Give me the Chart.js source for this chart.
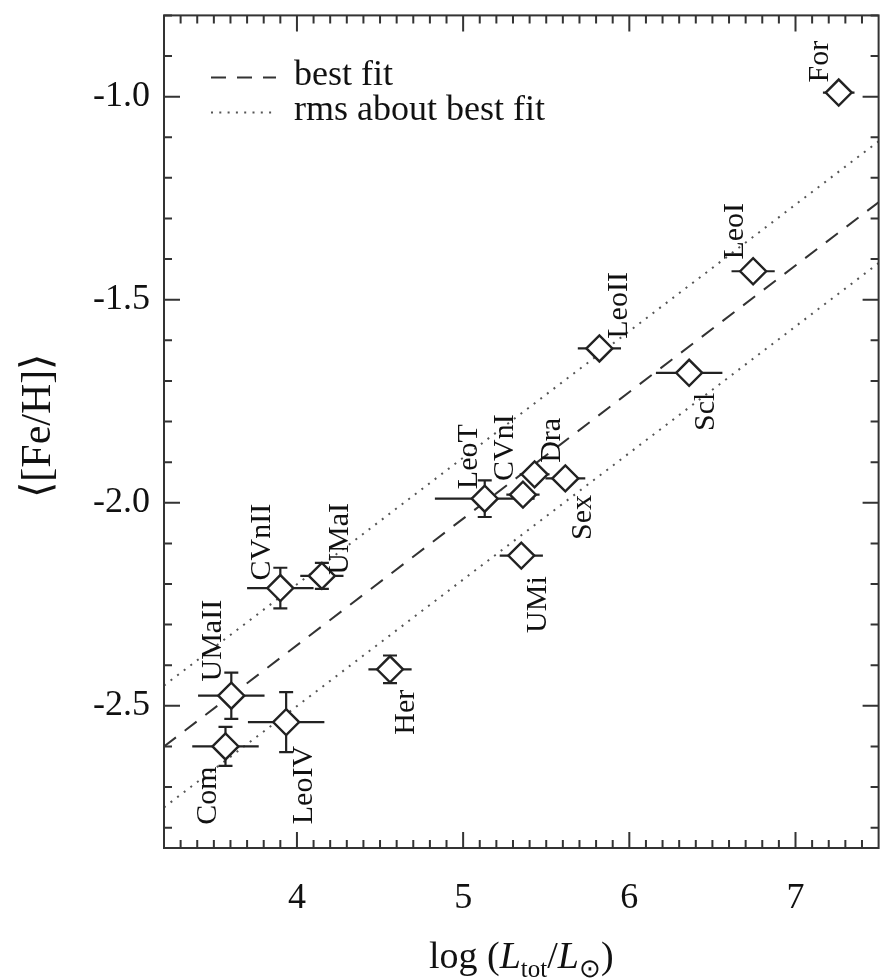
<!DOCTYPE html>
<html>
<head>
<meta charset="utf-8">
<script src="https://cdn.jsdelivr.net/npm/chart.js@4.4.1/dist/chart.umd.min.js"></script>
<style>
  html, body { margin: 0; padding: 0; background: #fff; }
  #wrap { width: 894px; height: 980px; }
</style>
</head>
<body>
<div id="wrap"><canvas id="fehChart" width="894" height="980"></canvas></div>
<script>
// dwarf galaxies: mean metallicity vs. total luminosity
var galaxies = ['For', 'LeoI', 'Scl', 'LeoII', 'Sex', 'Dra', 'CVnI', 'UMi',
                'LeoT', 'Her', 'UMaI', 'CVnII', 'LeoIV', 'UMaII', 'Com'];
var logL    = [7.26, 6.745, 6.36, 5.82, 5.615, 5.43, 5.36, 5.35,
               5.13, 4.56, 4.15, 3.90, 3.935, 3.605, 3.57];
var feh     = [-0.99, -1.43, -1.68, -1.62, -1.94, -1.93, -1.98, -2.13,
               -1.99, -2.41, -2.18, -2.21, -2.54, -2.475, -2.60];
var logLErr = [0.095, 0.13, 0.20, 0.13, 0.12, 0.09, 0.10, 0.13,
               0.30, 0.13, 0.13, 0.20, 0.23, 0.20, 0.20];
var fehErr  = [0, 0, 0, 0, 0, 0, 0, 0,
               0.045, 0.034, 0.032, 0.05, 0.074, 0.057, 0.048];

// best fit and rms band, end points
var fitX     = [3.2, 7.5];
var fitY     = [-2.60, -1.26];
var rmsUpper = [-2.45, -1.11];
var rmsLower = [-2.75, -1.41];

var xTicks = [4, 5, 6, 7];
var yTicks = [-2.5, -2.0, -1.5, -1.0];

// where each name sits relative to its diamond (px, text is rotated)
var labelOffsets = [[-19, -31], [-18, -40], [17, 39], [20, -43], [18, 39], [18, -34], [-18, -47], [17, 49],
                    [-16, -42], [16, 43], [18, -37], [-18, -46], [18, 63], [-18, -55], [-17, 49]];

var SERIF = "'Liberation Serif', 'Times New Roman', serif";
var INK = '#222';

function toPoints(xs, ys) {
    var pts = [];
    for (var i = 0; i < xs.length; i++) pts.push({ x: xs[i], y: ys[i] });
    return pts;
}

var decor = {
    id: 'decor',

    // error bars go in just before the diamonds
    beforeDatasetDraw: function(chart, args) {
        if (args.index !== 0) return;
        var ctx = chart.ctx, sx = chart.scales.x, sy = chart.scales.y;
        ctx.save();
        ctx.strokeStyle = INK;
        ctx.lineWidth = 2.2;
        for (var i = 0; i < logL.length; i++) {
            var cx = sx.getPixelForValue(logL[i]);
            var cy = sy.getPixelForValue(feh[i]);
            ctx.beginPath();
            if (logLErr[i] > 0) {
                ctx.moveTo(sx.getPixelForValue(logL[i] - logLErr[i]), cy);
                ctx.lineTo(sx.getPixelForValue(logL[i] + logLErr[i]), cy);
            }
            if (fehErr[i] > 0) {
                var y0 = sy.getPixelForValue(feh[i] - fehErr[i]);
                var y1 = sy.getPixelForValue(feh[i] + fehErr[i]);
                ctx.moveTo(cx, y0); ctx.lineTo(cx, y1);
                ctx.moveTo(cx - 7, y0); ctx.lineTo(cx + 7, y0);
                ctx.moveTo(cx - 7, y1); ctx.lineTo(cx + 7, y1);
            }
            ctx.stroke();
        }
        ctx.restore();
    },

    afterDraw: function(chart) {
        var ctx = chart.ctx, a = chart.chartArea;
        var sx = chart.scales.x, sy = chart.scales.y;
        ctx.save();

        // frame
        ctx.strokeStyle = '#333';
        ctx.lineWidth = 2;
        ctx.strokeRect(a.left, a.top, a.right - a.left, a.bottom - a.top);

        // inward ticks on all four sides
        ctx.beginPath();
        for (var i = 33; i <= 74; i++) {
            var px = sx.getPixelForValue(i / 10);
            var len = (i % 10 === 0) ? 16 : 8;
            ctx.moveTo(px, a.bottom); ctx.lineTo(px, a.bottom - len);
            ctx.moveTo(px, a.top); ctx.lineTo(px, a.top + len);
        }
        for (var j = -28; j <= -8; j++) {
            var py = sy.getPixelForValue(j / 10);
            var ylen = (j % 5 === 0) ? 16 : 8;
            ctx.moveTo(a.left, py); ctx.lineTo(a.left + ylen, py);
            ctx.moveTo(a.right, py); ctx.lineTo(a.right - ylen, py);
        }
        ctx.stroke();

        // galaxy names
        ctx.fillStyle = '#111';
        ctx.font = '30px ' + SERIF;
        ctx.textAlign = 'center';
        ctx.textBaseline = 'middle';
        for (var k = 0; k < galaxies.length; k++) {
            var gx = sx.getPixelForValue(logL[k]) + labelOffsets[k][0];
            var gy = sy.getPixelForValue(feh[k]) + labelOffsets[k][1];
            ctx.save();
            ctx.translate(gx, gy);
            ctx.rotate(-Math.PI / 2);
            ctx.fillText(galaxies[k], 0, 0);
            ctx.restore();
        }

        // legend
        var sets = chart.data.datasets;
        var rows = [sets[1], sets[2]];
        for (var r = 0; r < rows.length; r++) {
            var ly = a.top + 62 + r * 35;
            ctx.beginPath();
            ctx.strokeStyle = rows[r].borderColor;
            ctx.lineWidth = rows[r].borderWidth;
            ctx.setLineDash(rows[r].borderDash);
            ctx.moveTo(a.left + 47, ly);
            ctx.lineTo(a.left + 112, ly);
            ctx.stroke();
            ctx.setLineDash([]);
            ctx.fillStyle = '#111';
            ctx.font = '36px ' + SERIF;
            ctx.textAlign = 'left';
            ctx.textBaseline = 'alphabetic';
            ctx.fillText(rows[r].label, a.left + 130, ly + 8);
        }

        // x axis title: log (L_tot / L_sun)
        var parts = [
            { t: 'log (', f: '38px ' + SERIF, dy: 0 },
            { t: 'L', f: 'italic 38px ' + SERIF, dy: 0 },
            { t: 'tot', f: '25px ' + SERIF, dy: 9 },
            { t: '/', f: '38px ' + SERIF, dy: 0 },
            { t: 'L', f: 'italic 38px ' + SERIF, dy: 0 },
            { t: '\u2299', f: '26px ' + SERIF, dy: 9 },
            { t: ')', f: '38px ' + SERIF, dy: 0 }
        ];
        var total = 0;
        parts.forEach(function(p) { ctx.font = p.f; p.w = ctx.measureText(p.t).width; total += p.w; });
        var tx = (a.left + a.right) / 2 - total / 2;
        var base = a.bottom + 120;
        ctx.textAlign = 'left';
        ctx.textBaseline = 'alphabetic';
        parts.forEach(function(p) {
            ctx.font = p.f;
            ctx.fillText(p.t, tx, base + p.dy);
            tx += p.w;
        });

        // y axis title
        ctx.save();
        ctx.translate(39, (a.top + a.bottom) / 2 - 6);
        ctx.rotate(-Math.PI / 2);
        ctx.font = '42px ' + SERIF;
        ctx.textAlign = 'center';
        ctx.textBaseline = 'middle';
        ctx.fillText('\u27E8[Fe/H]\u27E9', 0, 0);
        ctx.restore();

        ctx.restore();
    }
};

var ctx = document.getElementById('fehChart').getContext('2d');
var fehChart = new Chart(ctx, {
    type: 'scatter',
    data: {
        datasets: [
            {
                label: 'dSphs',
                data: toPoints(logL, feh),
                pointStyle: 'rectRot',
                pointRadius: 13,
                pointBorderWidth: 2.4,
                pointBorderColor: INK,
                pointBackgroundColor: '#fff'
            },
            {
                label: 'best fit',
                type: 'line',
                data: toPoints(fitX, fitY),
                borderColor: '#333',
                borderWidth: 2,
                borderDash: [15, 11],
                pointRadius: 0,
                fill: false
            },
            {
                label: 'rms about best fit',
                type: 'line',
                data: toPoints(fitX, rmsUpper),
                borderColor: '#555',
                borderWidth: 2,
                borderDash: [2, 6.3],
                pointRadius: 0,
                fill: false
            },
            {
                label: 'rms lower',
                type: 'line',
                data: toPoints(fitX, rmsLower),
                borderColor: '#555',
                borderWidth: 2,
                borderDash: [2, 6.3],
                pointRadius: 0,
                fill: false
            }
        ]
    },
    options: {
        responsive: false,
        animation: false,
        layout: { padding: { top: 14, right: 12, left: 0, bottom: 0 } },
        plugins: { legend: { display: false }, tooltip: { enabled: false } },
        scales: {
            x: {
                type: 'linear',
                min: 3.2,
                max: 7.5,
                grid: { display: false, drawTicks: false },
                border: { display: false },
                afterFit: function(s) { s.height = 132; s.paddingLeft = 0; s.paddingRight = 0; },
                afterBuildTicks: function(s) { s.ticks = xTicks.map(function(v) { return { value: v }; }); },
                ticks: {
                    font: { family: SERIF, size: 36 },
                    color: '#111',
                    padding: 29,
                    maxRotation: 0,
                    autoSkip: false
                }
            },
            y: {
                type: 'linear',
                min: -2.85,
                max: -0.8,
                grid: { display: false, drawTicks: false },
                border: { display: false },
                afterFit: function(s) { s.width = 164; s.paddingTop = 0; s.paddingBottom = 0; },
                afterBuildTicks: function(s) { s.ticks = yTicks.map(function(v) { return { value: v }; }); },
                ticks: {
                    font: { family: SERIF, size: 36 },
                    color: '#111',
                    padding: 14,
                    autoSkip: false,
                    callback: function(v) { return v.toFixed(1); }
                }
            }
        }
    },
    plugins: [decor]
});
</script>
</body>
</html>
